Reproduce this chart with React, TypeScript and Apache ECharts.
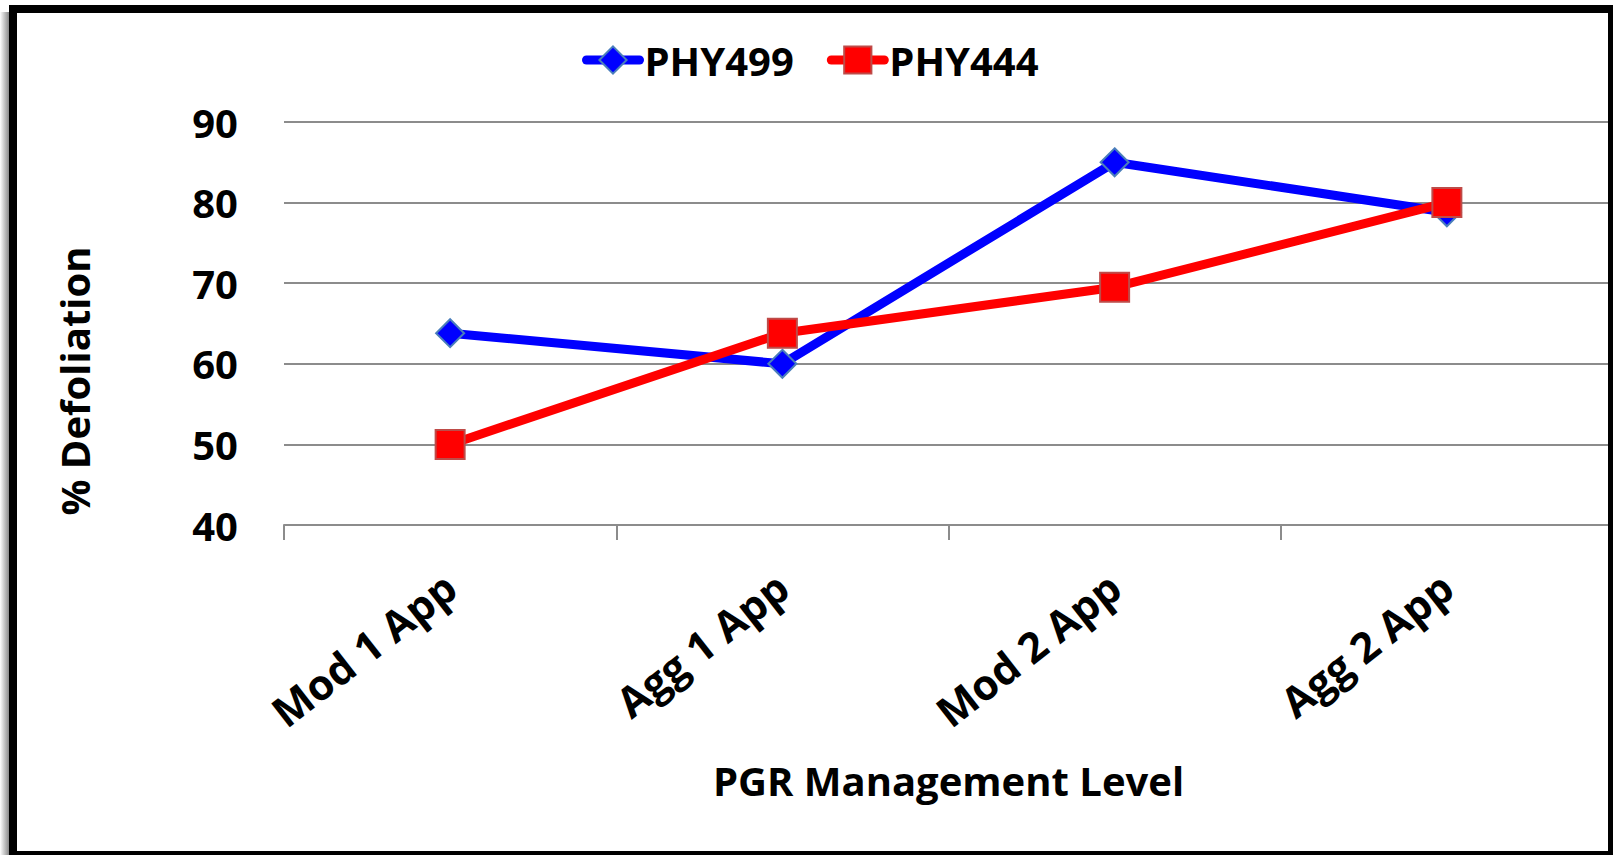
import React, { useEffect, useRef } from 'react';
import * as echarts from 'echarts';

const categories = ['Mod 1 App', 'Agg 1 App', 'Mod 2 App', 'Agg 2 App'];
const seriesNames = ['PHY499', 'PHY444'];
const phy499 = [63.8, 60, 85, 78.8];
const phy444 = [50, 63.8, 69.5, 80];
const yMin = 40;
const yMax = 90;
const yStep = 10;
const xAxisTitle = 'PGR Management Level';
const yAxisTitle = '% Defoliation';

export default function App() {
  const ref = useRef<HTMLDivElement>(null);
  useEffect(() => {
    document.body.style.margin = '0';
    const chart = echarts.init(ref.current!, null, { renderer: 'svg' });
    const font = "'Open Sans', sans-serif";
    const gray = '#8c8c8c';
    chart.setOption({
      animation: false,
      backgroundColor: '#ffffff',
      textStyle: { fontFamily: font },
      grid: { left: 284, right: 0, top: 122, bottom: 330, containLabel: false },
      legend: {
        left: 582,
        top: 40,
        padding: 0,
        itemWidth: 53,
        itemHeight: 34,
        itemGap: 33,
        lineStyle: { width: 9, cap: 'round' },
        textStyle: { fontFamily: font, fontSize: 40, fontWeight: 'bold', color: '#000' },
        data: seriesNames,
      },
      xAxis: {
        type: 'category',
        data: categories,
        boundaryGap: true,
        axisLine: { show: true, lineStyle: { color: gray, width: 2 } },
        axisTick: { show: true, length: 15, lineStyle: { color: gray, width: 2 } },
        axisLabel: {
          rotate: 38,
          margin: 56,
          fontFamily: font,
          fontSize: 42,
          fontWeight: 'bold',
          color: '#000',
        },
        name: xAxisTitle,
        nameLocation: 'middle',
        nameGap: 235,
        nameTextStyle: { fontFamily: font, fontSize: 40, fontWeight: 'bold', color: '#000' },
        splitLine: { show: false },
      },
      yAxis: {
        type: 'value',
        min: yMin,
        max: yMax,
        interval: yStep,
        axisLine: { show: false },
        axisTick: { show: false },
        axisLabel: {
          margin: 46,
          fontFamily: font,
          fontSize: 40,
          fontWeight: 'bold',
          color: '#000',
        },
        splitLine: { show: true, lineStyle: { color: gray, width: 2 } },
      },
      series: [
        {
          name: seriesNames[0],
          type: 'line',
          data: phy499,
          symbol: 'diamond',
          symbolSize: 28,
          lineStyle: { color: '#0000ff', width: 9, cap: 'round', join: 'round' },
          itemStyle: { color: '#0000ff', borderColor: '#4a7ebb', borderWidth: 2 },
          z: 2,
        },
        {
          name: seriesNames[1],
          type: 'line',
          data: phy444,
          symbol: 'rect',
          symbolSize: 29,
          lineStyle: { color: '#ff0000', width: 9, cap: 'round', join: 'round' },
          itemStyle: { color: '#ff0000', borderColor: '#be4b48', borderWidth: 2 },
          z: 3,
        },
      ],
      graphic: [
        {
          type: 'text',
          x: 74,
          y: 381,
          rotation: Math.PI / 2,
          z: 10,
          style: {
            text: yAxisTitle,
            fontFamily: font,
            fontSize: 40,
            fontWeight: 'bold',
            fill: '#000',
            align: 'center',
            verticalAlign: 'middle',
          },
        },
        {
          type: 'rect',
          z: 20,
          shape: { x: 0, y: 12, width: 9, height: 843 },
          style: {
            fill: new echarts.graphic.LinearGradient(0, 0, 1, 0, [
              { offset: 0, color: '#ffffff' },
              { offset: 1, color: '#8a8a8a' },
            ]),
          },
        },
        {
          type: 'rect',
          z: 21,
          shape: { x: 13, y: 9, width: 1599, height: 846 },
          style: { fill: 'none', stroke: '#000', lineWidth: 8 },
        },
      ],
    });
    return () => chart.dispose();
  }, []);
  return <div ref={ref} style={{ width: 1613, height: 855 }} />;
}
